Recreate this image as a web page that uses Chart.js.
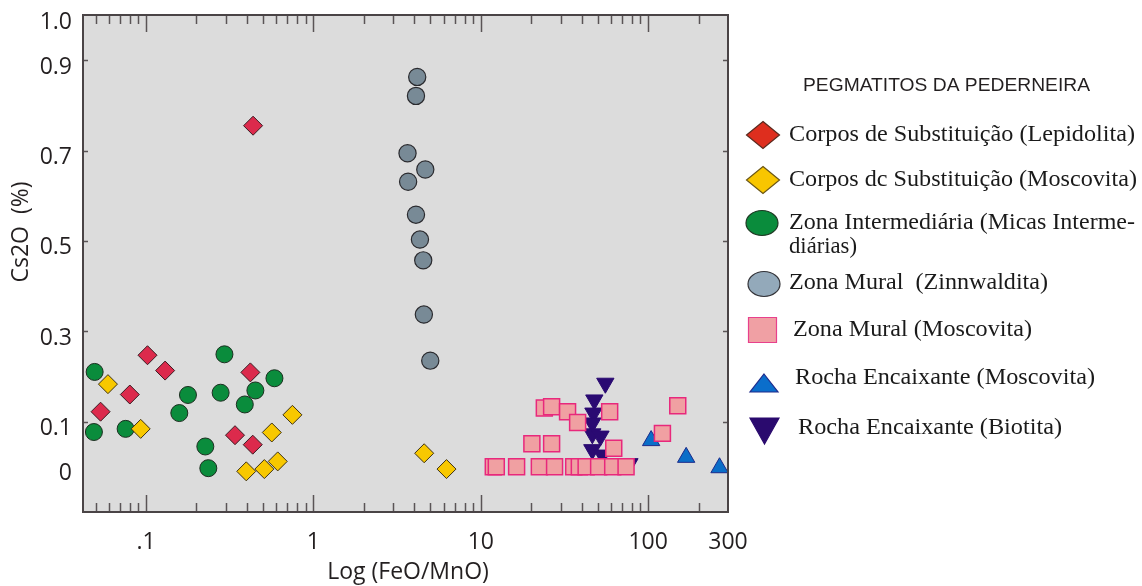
<!DOCTYPE html>
<html>
<head>
<meta charset="utf-8">
<script src="https://cdn.jsdelivr.net/npm/chart.js@4.4.1/dist/chart.umd.min.js"></script>
<style>
  html, body { margin: 0; padding: 0; background: #ffffff; }
  canvas { display: block; }
</style>
</head>
<body>
<canvas id="chart" width="1142" height="586"></canvas>
<script>
// FeO/MnO ratio (x) and Cs2O wt% (y) for each mica group
const lepidolitaX = [0.102, 0.130, 0.080, 0.0535, 0.42, 0.34, 0.434, 0.436];
const lepidolitaY = [0.247, 0.213, 0.160, 0.122, 0.209, 0.070, 0.049, 0.755];

const substMoscovitaX = [0.0592, 0.0929, 0.749, 0.564, 0.612, 0.509, 0.397, 4.59, 6.24];
const substMoscovitaY = [0.183, 0.084, 0.115, 0.076, 0.012, -0.005, -0.010, 0.030, -0.005];

const intermediariaX = [0.0493, 0.0488, 0.0755, 0.178, 0.158, 0.294, 0.279, 0.450, 0.585, 0.389, 0.226, 0.2355];
const intermediariaY = [0.210, 0.077, 0.084, 0.159, 0.119, 0.249, 0.164, 0.169, 0.196, 0.138, 0.045, -0.003];

const zinnwalditaX = [4.17, 4.10, 3.65, 4.66, 3.68, 4.10, 4.33, 4.53, 4.57, 4.99];
const zinnwalditaY = [0.863, 0.821, 0.694, 0.658, 0.631, 0.558, 0.503, 0.457, 0.337, 0.235];

const muralMoscovitaX = [23.97, 26.5, 33.0, 37.9, 58.9, 20.2, 26.5, 62.3, 150.3, 121.7,
                         11.88, 12.38, 16.37, 22.38, 27.6, 35.9, 38.8, 42.6, 50.6, 61.4, 73.8];
const muralMoscovitaY = [0.130, 0.133, 0.122, 0.098, 0.122, 0.051, 0.051, 0.041, 0.135, 0.074,
                         0, 0, 0, 0, 0, 0, 0, 0, 0, 0, 0];

const encaixMoscovitaX = [104.2, 168.7, 267];
const encaixMoscovitaY = [0.058, 0.021, -0.002];

const encaixBiotitaX = [55.5, 47.7, 47.1, 46.4, 46.4, 51.9, 46.4, 53.3, 51.2, 77.3];
const encaixBiotitaY = [0.185, 0.148, 0.119, 0.097, 0.073, 0.068, 0.038, 0.026, 0.007, 0.007];

// Axis ticks
const xTickValues = [0.1, 1, 10, 100, 300];
const xTickLabels = ['.1', '1', '10', '100', '300'];
const yTickValues = [0, 0.1, 0.3, 0.5, 0.7, 0.9, 1.0];
const yTickLabels = ['0', '0.1', '0.3', '0.5', '0.7', '0.9', '1.0'];
const yMarkValues = [0.1, 0.3, 0.5, 0.7, 0.9];

// Series names
const legendTitle = 'PEGMATITOS DA PEDERNEIRA';
const seriesNames = [
  'Corpos de Substituição (Lepidolita)',
  'Corpos dc Substituição (Moscovita)',
  'Zona Intermediária (Micas Interme-',
  'Zona Mural  (Zinnwaldita)',
  'Zona Mural (Moscovita)',
  'Rocha Encaixante (Moscovita)',
  'Rocha Encaixante (Biotita)'
];
const seriesNameContinuation = 'diárias)';

const seriesX = [lepidolitaX, substMoscovitaX, intermediariaX, zinnwalditaX, muralMoscovitaX, encaixMoscovitaX, encaixBiotitaX];
const seriesY = [lepidolitaY, substMoscovitaY, intermediariaY, zinnwalditaY, muralMoscovitaY, encaixMoscovitaY, encaixBiotitaY];

// Marker styles for plotted points
const markerStyles = [
  { pointStyle: 'rectRot',  radius: 9.5,  rotation: 0,   bg: '#dc2a4c', border: '#3a1c22', bw: 1 },
  { pointStyle: 'rectRot',  radius: 9.5,  rotation: 0,   bg: '#f8c800', border: '#3e3214', bw: 1 },
  { pointStyle: 'circle',   radius: 8.5,  rotation: 0,   bg: '#0a8c3c', border: '#1c2e20', bw: 1 },
  { pointStyle: 'circle',   radius: 8.6,  rotation: 0,   bg: '#788a96', border: '#2a2a2e', bw: 1.2 },
  { pointStyle: 'rect',     radius: 11.3, rotation: 0,   bg: '#f0a0a2', border: '#e8287c', bw: 1.5 },
  { pointStyle: 'triangle', radius: 10,   rotation: 0,   bg: '#0a6ec8', border: '#1c2a8a', bw: 1 },
  { pointStyle: 'triangle', radius: 10,   rotation: 180, bg: '#2a0a72', border: '#2a0a72', bw: 1 }
];

// Legend layout (swatch centre, text start, text width, text centre line)
const legendLayout = [
  { shape: 'diamond', cx: 763, cy: 135, w: 33, h: 27, fill: '#de2e1e', stroke: '#5a2a1e', tx: 789, ty: 135, tw: 346 },
  { shape: 'diamond', cx: 763, cy: 180, w: 33, h: 27, fill: '#f8c600', stroke: '#6a5616', tx: 789, ty: 180, tw: 348 },
  { shape: 'ellipse', cx: 762, cy: 223, w: 32, h: 25, fill: '#0a8c3c', stroke: '#1e3a24', tx: 789, ty: 223, tw: 346 },
  { shape: 'ellipse', cx: 764, cy: 284, w: 32, h: 25, fill: '#93a9ba', stroke: '#333338', tx: 789, ty: 283, tw: 259 },
  { shape: 'square',  cx: 762.5, cy: 330, w: 28, h: 25, fill: '#f0a0a4', stroke: '#e8408c', tx: 793, ty: 330, tw: 239 },
  { shape: 'triUp',   cx: 764, cy: 383, w: 28, h: 18, fill: '#0a6ecb', stroke: '#1e2a8c', tx: 795, ty: 378, tw: 300 },
  { shape: 'triDown', cx: 764.5, cy: 431, w: 29, h: 26, fill: '#2a0a6e', stroke: '#2a0a6e', tx: 798, ty: 428, tw: 264 }
];

const datasets = seriesNames.map((name, i) => ({
  label: name,
  data: seriesX[i].map((x, j) => ({ x: x, y: seriesY[i][j] })),
  pointStyle: markerStyles[i].pointStyle,
  pointRadius: markerStyles[i].radius,
  pointRotation: markerStyles[i].rotation,
  pointBackgroundColor: markerStyles[i].bg,
  pointBorderColor: markerStyles[i].border,
  pointBorderWidth: markerStyles[i].bw,
  showLine: false
}));

function fitText(ctx, text, x, y, width) {
  const m = ctx.measureText(text).width;
  ctx.save();
  ctx.translate(x, y);
  ctx.scale(width / m, 1);
  ctx.fillText(text, 0, 0);
  ctx.restore();
}

const framePlugin = {
  id: 'frame',
  beforeDraw(chart) {
    const { ctx, chartArea: a } = chart;
    ctx.save();
    ctx.fillStyle = '#dcdcdc';
    ctx.fillRect(a.left, a.top, a.right - a.left, a.bottom - a.top);
    ctx.restore();
  },
  afterDatasetsDraw(chart) {
    const { ctx, chartArea: a, scales: { x, y } } = chart;
    ctx.save();
    ctx.strokeStyle = '#5a5456';
    ctx.lineWidth = 1.5;
    // log ticks, inward from bottom and top
    for (let e = -2; e <= 2; e++) {
      for (let m = 1; m <= 9; m++) {
        const v = m * Math.pow(10, e);
        if (v < x.min || v >= x.max) continue;
        const px = Math.round(x.getPixelForValue(v)) + 0.5;
        const len = m === 1 ? 17 : 9;
        ctx.beginPath();
        ctx.moveTo(px, a.bottom);
        ctx.lineTo(px, a.bottom - len);
        ctx.moveTo(px, a.top);
        ctx.lineTo(px, a.top + len);
        ctx.stroke();
      }
    }
    // short inward ticks on left and right
    yMarkValues.forEach(v => {
      const py = Math.round(y.getPixelForValue(v)) + 0.5;
      ctx.beginPath();
      ctx.moveTo(a.left, py);
      ctx.lineTo(a.left + 5, py);
      ctx.moveTo(a.right, py);
      ctx.lineTo(a.right - 5, py);
      ctx.stroke();
    });
    // frame
    ctx.strokeStyle = '#4a4446';
    ctx.lineWidth = 2;
    ctx.strokeRect(a.left, a.top, a.right - a.left, a.bottom - a.top);
    ctx.restore();
  },
  afterDraw(chart) {
    const { ctx } = chart;
    ctx.save();
    // axis titles
    ctx.fillStyle = '#231f20';
    ctx.font = '23px "Open Sans", sans-serif';
    ctx.textAlign = 'center';
    ctx.textBaseline = 'middle';
    ctx.fillText('Log (FeO/MnO)', 408, 572);
    ctx.save();
    ctx.translate(21, 232);
    ctx.rotate(-Math.PI / 2);
    ctx.fillText('Cs2O  (%)', 0, 0);
    ctx.restore();

    // legend title
    ctx.textAlign = 'left';
    ctx.font = '19px "Liberation Sans", sans-serif';
    fitText(ctx, legendTitle, 803, 86, 287);

    // legend entries
    ctx.font = '23px "Liberation Serif", serif';
    legendLayout.forEach((it, i) => {
      ctx.fillStyle = it.fill;
      ctx.strokeStyle = it.stroke;
      ctx.lineWidth = 1.2;
      ctx.beginPath();
      const hw = it.w / 2, hh = it.h / 2;
      if (it.shape === 'diamond') {
        ctx.moveTo(it.cx, it.cy - hh);
        ctx.lineTo(it.cx + hw, it.cy);
        ctx.lineTo(it.cx, it.cy + hh);
        ctx.lineTo(it.cx - hw, it.cy);
        ctx.closePath();
      } else if (it.shape === 'ellipse') {
        ctx.ellipse(it.cx, it.cy, hw, hh, 0, 0, Math.PI * 2);
      } else if (it.shape === 'square') {
        ctx.rect(it.cx - hw, it.cy - hh, it.w, it.h);
      } else if (it.shape === 'triUp') {
        ctx.moveTo(it.cx, it.cy - hh);
        ctx.lineTo(it.cx + hw, it.cy + hh);
        ctx.lineTo(it.cx - hw, it.cy + hh);
        ctx.closePath();
      } else {
        ctx.moveTo(it.cx - hw, it.cy - hh);
        ctx.lineTo(it.cx + hw, it.cy - hh);
        ctx.lineTo(it.cx, it.cy + hh);
        ctx.closePath();
      }
      ctx.fill();
      ctx.stroke();

      ctx.fillStyle = '#1a1a1a';
      fitText(ctx, seriesNames[i], it.tx, it.ty, it.tw);
      if (i === 2) fitText(ctx, seriesNameContinuation, it.tx, it.ty + 23.5, 68);
    });
    ctx.restore();
  }
};

new Chart(document.getElementById('chart'), {
  type: 'scatter',
  data: { datasets: datasets },
  options: {
    responsive: false,
    animation: false,
    events: [],
    layout: { padding: { left: 0, top: 15, right: 414, bottom: 0 } },
    plugins: { legend: { display: false }, tooltip: { enabled: false } },
    scales: {
      x: {
        type: 'logarithmic',
        min: 0.042,
        max: 300,
        grid: { display: false, drawTicks: false },
        border: { display: false },
        afterFit(scale) {
          scale.height = 74;
          scale.paddingLeft = 0;
          scale.paddingRight = 0;
        },
        afterBuildTicks(scale) { scale.ticks = xTickValues.map(v => ({ value: v })); },
        ticks: {
          autoSkip: false,
          maxRotation: 0,
          padding: 17,
          color: '#231f20',
          font: { family: '"Open Sans", sans-serif', size: 23 },
          callback: (value, index) => xTickLabels[index]
        }
      },
      y: {
        type: 'linear',
        min: -0.1,
        max: 1.0,
        grid: { display: false, drawTicks: false },
        border: { display: false },
        afterFit(scale) {
          scale.width = 83;
          scale.paddingTop = 0;
          scale.paddingBottom = 0;
        },
        afterBuildTicks(scale) { scale.ticks = yTickValues.map(v => ({ value: v })); },
        ticks: {
          autoSkip: false,
          padding: 11,
          labelOffset: 7,
          color: '#231f20',
          font: { family: '"Open Sans", sans-serif', size: 23 },
          callback: (value, index) => yTickLabels[index]
        }
      }
    }
  },
  plugins: [framePlugin]
});
</script>
</body>
</html>
